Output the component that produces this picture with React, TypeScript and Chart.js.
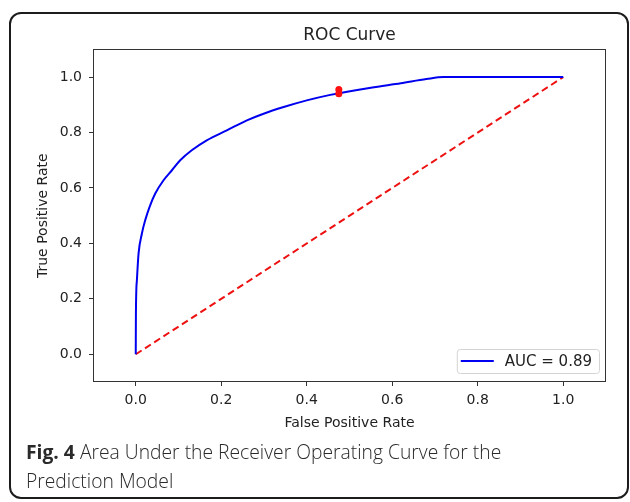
import React, { useEffect, useRef } from "react";
import { Chart, registerables } from "chart.js";

Chart.register(...registerables);

// ---- data ----
const fprValues = [0, 0.0004, 0.0027, 0.0066, 0.0144, 0.0222, 0.0324, 0.0456, 0.065, 0.0846, 0.104, 0.131, 0.166, 0.213, 0.26, 0.299, 0.346, 0.4, 0.455, 0.55, 0.62, 0.68, 0.72, 1.0];
const tprValues = [0, 0.148, 0.268, 0.364, 0.436, 0.484, 0.532, 0.58, 0.628, 0.664, 0.7, 0.736, 0.772, 0.808, 0.844, 0.868, 0.892, 0.916, 0.936, 0.962, 0.978, 0.993, 1.0, 1.0];
const chanceFpr = [0, 1];
const chanceTpr = [0, 1];
const cutoffFpr = [0.475, 0.475];
const cutoffTpr = [0.94, 0.955];
const tickValues = [0, 0.2, 0.4, 0.6, 0.8, 1.0];
const aucLabel = "AUC = 0.89";
const titleText = "ROC Curve";
const xLabel = "False Positive Rate";
const yLabel = "True Positive Rate";
const captionBold = "Fig. 4";
const captionLine1 = " Area Under the Receiver Operating Curve for the";
const captionLine2 = "Prediction Model";

const FONT = '"DejaVu Sans", sans-serif';
const INK = "#222";

const framePlugin = {
  id: "frame",
  beforeDatasetsDraw(chart: any) {
    const { ctx, chartArea } = chart;
    ctx.save();
    ctx.strokeStyle = "#333";
    ctx.lineWidth = 1;
    const l = Math.round(chartArea.left) + 0.5;
    const t = Math.round(chartArea.top) + 0.5;
    const r = Math.round(chartArea.right) - 0.5;
    const b = Math.round(chartArea.bottom) - 0.5;
    ctx.strokeRect(l, t, r - l, b - t);
    ctx.restore();
  },
};

const legendPlugin = {
  id: "cornerLegend",
  afterDraw(chart: any) {
    const { ctx, chartArea } = chart;
    const ds = chart.data.datasets.find((d: any) => d.showInLegend);
    if (!ds) return;
    ctx.save();
    ctx.font = `15px ${FONT}`;
    const tw = ctx.measureText(ds.label).width;
    const lineLen = 33, padL = 4, gap = 11, padR = 7, h = 24;
    const w = padL + lineLen + gap + tw + padR;
    const x1 = chartArea.right - 7 - w;
    const y1 = chartArea.bottom - 9 - h;
    ctx.beginPath();
    ctx.roundRect(x1 + 0.5, y1 + 0.5, w, h, 3);
    ctx.fillStyle = "rgba(255,255,255,0.85)";
    ctx.fill();
    ctx.strokeStyle = "#d4d4d4";
    ctx.lineWidth = 1;
    ctx.stroke();
    const cy = y1 + h / 2;
    ctx.beginPath();
    ctx.moveTo(x1 + padL, cy);
    ctx.lineTo(x1 + padL + lineLen, cy);
    ctx.strokeStyle = ds.borderColor;
    ctx.lineWidth = 2;
    ctx.stroke();
    ctx.fillStyle = INK;
    ctx.textBaseline = "middle";
    ctx.textAlign = "left";
    ctx.fillText(ds.label, x1 + padL + lineLen + gap, cy + 1);
    ctx.restore();
  },
};

export default function App() {
  const canvasRef = useRef<HTMLCanvasElement | null>(null);

  useEffect(() => {
    const canvas = canvasRef.current;
    if (!canvas) return;
    const tickFmt = (v: any) => Number(v).toFixed(1);
    const chart = new Chart(canvas, {
      type: "scatter",
      data: {
        datasets: [
          {
            label: "cutoff",
            data: cutoffFpr.map((x, i) => ({ x, y: cutoffTpr[i] })),
            showLine: false,
            pointRadius: 3.5,
            pointBackgroundColor: "#ff1010",
            pointBorderColor: "#ff1010",
            pointBorderWidth: 0,
            order: 0,
          } as any,
          {
            label: aucLabel,
            showInLegend: true,
            data: fprValues.map((x, i) => ({ x, y: tprValues[i] })),
            showLine: true,
            borderColor: "#0000f0",
            borderWidth: 2,
            pointRadius: 0,
            cubicInterpolationMode: "monotone",
            order: 1,
          } as any,
          {
            label: "chance",
            data: chanceFpr.map((x, i) => ({ x, y: chanceTpr[i] })),
            showLine: true,
            borderColor: "#ee1111",
            borderWidth: 2,
            borderDash: [7, 4],
            pointRadius: 0,
            order: 2,
          } as any,
        ],
      },
      options: {
        responsive: false,
        animation: false,
        layout: { padding: { left: 0, right: 24, top: 0, bottom: 0 } },
        plugins: {
          legend: { display: false },
          tooltip: { enabled: false },
          title: {
            display: true,
            text: titleText,
            fullSize: false,
            color: INK,
            font: { family: FONT, size: 17, weight: "normal" },
            padding: { top: 25, bottom: 4 },
          },
        },
        scales: {
          x: {
            type: "linear",
            min: -0.1,
            max: 1.1,
            afterBuildTicks: (s: any) => {
              s.ticks = tickValues.map((v) => ({ value: v }));
            },
            afterFit: (s: any) => {
              s.height = 58;
            },
            ticks: {
              callback: tickFmt,
              color: INK,
              font: { family: FONT, size: 14 },
              padding: 5.5,
              maxRotation: 0,
              autoSkip: false,
            },
            grid: { drawOnChartArea: false, drawTicks: true, tickLength: 4, tickColor: "#333" },
            border: { display: false },
            title: {
              display: true,
              text: xLabel,
              color: INK,
              font: { family: FONT, size: 14 },
              padding: { top: 0, bottom: 8.6 },
            },
          },
          y: {
            type: "linear",
            min: -0.1,
            max: 1.1,
            afterBuildTicks: (s: any) => {
              s.ticks = tickValues.map((v) => ({ value: v }));
            },
            afterFit: (s: any) => {
              s.width = 93;
            },
            ticks: {
              callback: tickFmt,
              color: INK,
              font: { family: FONT, size: 14 },
              padding: 7,
              autoSkip: false,
            },
            grid: { drawOnChartArea: false, drawTicks: true, tickLength: 4, tickColor: "#333" },
            border: { display: false },
            title: {
              display: true,
              text: yLabel,
              color: INK,
              font: { family: FONT, size: 14 },
              padding: { top: 34.6, bottom: 0 },
            },
          },
        },
      } as any,
      plugins: [framePlugin, legendPlugin],
    });
    return () => chart.destroy();
  }, []);

  return (
    <div>
      <div
        style={{
          position: "absolute",
          left: 9,
          top: 12,
          width: 620,
          height: 487,
          boxSizing: "border-box",
          border: "2px solid #1c1c1c",
          borderRadius: 12,
        }}
      />
      <canvas
        ref={canvasRef}
        width={630}
        height={440}
        style={{ position: "absolute", left: 0, top: 0, width: 630, height: 440, display: "block" }}
      />
      <div
        style={{
          position: "absolute",
          left: 26,
          top: 437,
          fontFamily: '"Open Sans", sans-serif',
          fontSize: 19.3,
          lineHeight: "29px",
          color: "#2a2a2a",
          fontWeight: 300,
          whiteSpace: "nowrap",
        }}
      >
        <span style={{ fontWeight: 700 }}>{captionBold}</span>
        {captionLine1}
        <br />
        {captionLine2}
      </div>
    </div>
  );
}
